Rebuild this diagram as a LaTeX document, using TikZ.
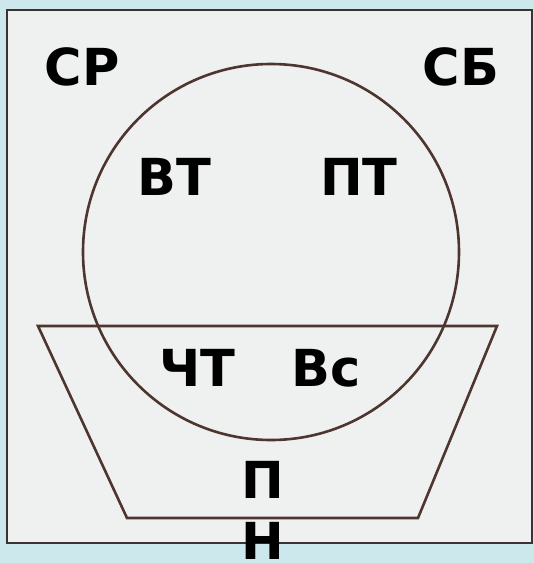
\documentclass[tikz,border=0pt]{standalone}
\usepackage{fontspec}
\newfontfamily\daysfont{DejaVu Sans}
\usepackage{xcolor}
\definecolor{skyback}{HTML}{CDE8EC}
\definecolor{paper}{HTML}{EEF1EF}
\definecolor{inkline}{HTML}{3B3331}
\definecolor{brownline}{HTML}{4E3530}

\begin{document}
\begin{tikzpicture}[
  x=1pt, y=-1pt,
  day/.style={
    anchor=base,
    inner sep=0pt,
    font=\daysfont\bfseries\fontsize{51}{55}\selectfont
  },
  frameline/.style={draw=inkline, line width=2.8pt},
  shapeline/.style={draw=brownline, line width=2.6pt}
]
% background and frame
\fill[skyback] (0,0) rectangle (534,563);
\useasboundingbox (0,0) rectangle (534,563);
\filldraw[fill=paper, frameline] (7,10) rectangle (532,543);

% circle and trapezoid
\draw[shapeline] (271,252) circle[radius=188];
\draw[shapeline] (38,326) -- (497,326) -- (418,518) -- (127,518) -- cycle;

% labels
\node[day] (sr) at (82,85) {СР};
\node[day] (sb) at (461,85) {СБ};
\node[day] (vt) at (174,195) {ВТ};
\node[day] (pt) at (359,195) {ПТ};
\node[day] (cht) at (197,386) {ЧТ};
\node[day] (vs) at (326,386) {Вс};
\node[day] (pn) at (263,498) {П};
\node[day] (nn) at (263,559) {Н};
\end{tikzpicture}
\end{document}
